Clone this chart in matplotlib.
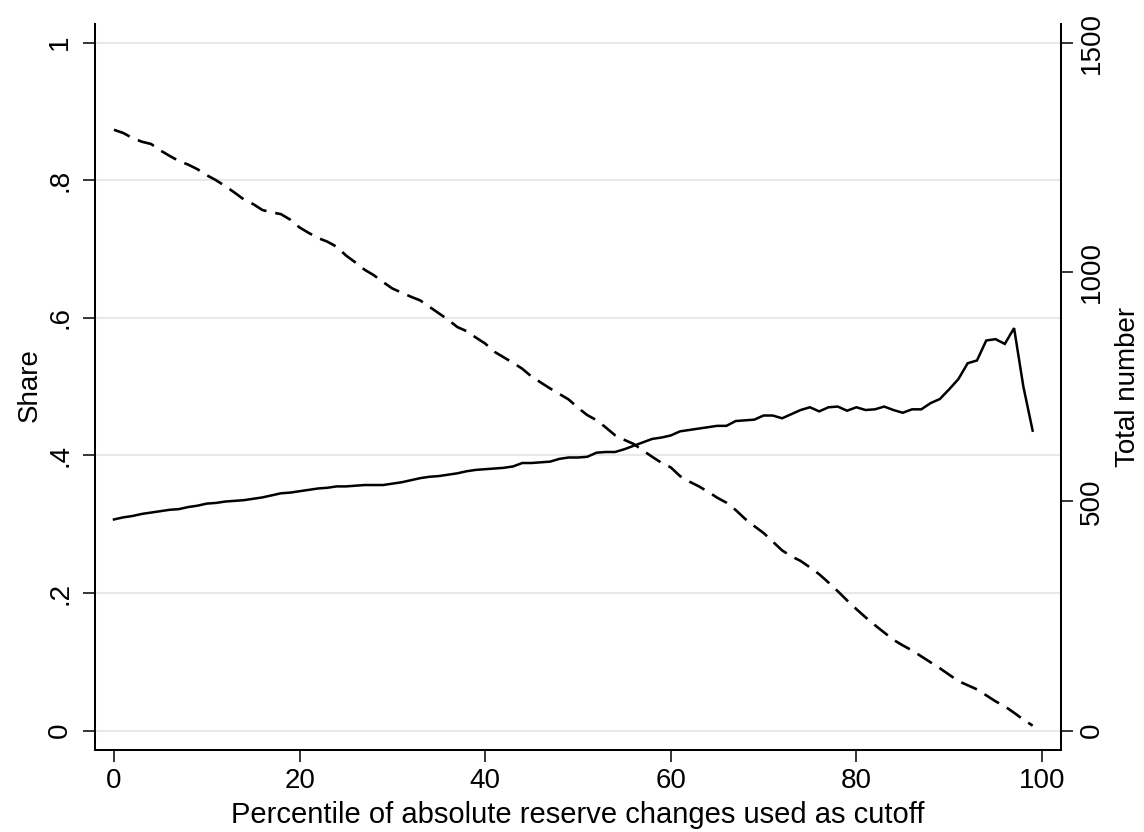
import matplotlib
matplotlib.use("Agg")
import matplotlib.pyplot as plt
import numpy as np

plt.rcParams["font.family"] = ["Liberation Sans", "DejaVu Sans"]

# percentile cutoff 0..99
percentile = np.arange(0, 100)

# share (left axis, solid line)
share = [
    0.307, 0.310, 0.312, 0.315, 0.317, 0.319, 0.321, 0.322, 0.325, 0.327,
    0.330, 0.331, 0.333, 0.334, 0.335, 0.337, 0.339, 0.342, 0.345, 0.346,
    0.348, 0.350, 0.352, 0.353, 0.355, 0.355, 0.356, 0.357, 0.357, 0.357,
    0.359, 0.361, 0.364, 0.367, 0.369, 0.370, 0.372, 0.374, 0.377, 0.379,
    0.380, 0.381, 0.382, 0.384, 0.389, 0.389, 0.390, 0.391, 0.395, 0.397,
    0.397, 0.398, 0.404, 0.405, 0.405, 0.409, 0.414, 0.419, 0.424, 0.426,
    0.429, 0.435, 0.437, 0.439, 0.441, 0.443, 0.443, 0.450, 0.451, 0.452,
    0.458, 0.458, 0.454, 0.460, 0.466, 0.470, 0.464, 0.470, 0.471, 0.465,
    0.470, 0.466, 0.467, 0.471, 0.466, 0.462, 0.467, 0.467, 0.476, 0.482,
    0.496, 0.511, 0.534, 0.538, 0.567, 0.569, 0.562, 0.585, 0.500, 0.436,
]

# total number (right axis, dashed line)
total = [
    1310, 1303, 1292, 1284, 1279, 1265, 1253, 1242, 1234, 1224,
    1211, 1200, 1187, 1173, 1158, 1148, 1135, 1130, 1126, 1114,
    1097, 1085, 1074, 1066, 1055, 1036, 1021, 1005, 993, 978,
    964, 955, 946, 938, 924, 910, 896, 880, 871, 857,
    844, 826, 814, 802, 789, 772, 759, 746, 734, 722,
    704, 688, 677, 661, 644, 634, 625, 611, 597, 584,
    574, 555, 543, 533, 521, 508, 497, 481, 462, 446,
    431, 412, 393, 380, 370, 356, 341, 323, 304, 284,
    265, 247, 230, 214, 198, 186, 175, 162, 149, 136,
    122, 108, 99, 90, 77, 64, 53, 39, 24, 11,
]

x_ticks = [0, 20, 40, 60, 80, 100]
share_ticks = [0, 0.2, 0.4, 0.6, 0.8, 1.0]
share_labels = ["0", ".2", ".4", ".6", ".8", "1"]
total_ticks = [0, 500, 1000, 1500]
total_labels = ["0", "500", "1000", "1500"]

FS = 20
TICK_LEN = 8.6
SPINE_W = 1.45

fig = plt.figure(figsize=(11.44, 8.32), dpi=100)
ax = fig.add_axes([0.0830, 0.0986, 0.8444, 0.8726])
ax2 = ax.twinx()

ax.set_xlim(-2.05, 102.05)
ax.set_ylim(-0.028, 1.027)
ax2.set_ylim(-42.1, 1540.7)

for y in share_ticks:
    ax.axhline(y, color="#e8e8e8", lw=1.45, zorder=0)

ax.plot(percentile, share, color="black", lw=1.8, solid_joinstyle="miter")
ax2.plot(percentile, total, color="black", lw=1.9, dashes=(6.5, 3.4))

for a in (ax, ax2):
    a.spines["top"].set_visible(False)
    for s in a.spines.values():
        s.set_linewidth(SPINE_W)
ax2.spines["left"].set_visible(False)
ax2.spines["bottom"].set_visible(False)
ax.spines["right"].set_visible(False)

ax.set_xticks(x_ticks)
ax.set_xticklabels([str(v) for v in x_ticks])
ax.tick_params(axis="x", length=TICK_LEN, width=1.1, pad=4.5, labelsize=FS)

ax.set_yticks(share_ticks)
ax.set_yticklabels(share_labels)
ax.tick_params(axis="y", length=TICK_LEN, width=1.1, pad=11.5, labelsize=FS)
for t in ax.get_yticklabels():
    t.set_rotation(90)
    t.set_rotation_mode("anchor")
    t.set_ha("center")
    t.set_va("baseline")

ax2.set_yticks(total_ticks)
ax2.set_yticklabels(total_labels)
ax2.tick_params(axis="y", length=TICK_LEN, width=1.1, pad=4.3, labelsize=FS)
for t in ax2.get_yticklabels():
    t.set_rotation(90)
    t.set_rotation_mode("anchor")
    t.set_ha("center")
    t.set_va("top")

ax.set_xlabel("Percentile of absolute reserve changes used as cutoff", fontsize=21)
ax.xaxis.set_label_coords(0.5, -0.0709)
ax.set_ylabel("Share", fontsize=FS)
ax.yaxis.set_label_coords(-0.054, 0.503)
ax2.set_ylabel("Total number", fontsize=FS, rotation=90, va="top")
ax2.yaxis.set_label_coords(1.0555, 0.5)

fig.savefig("out.png", dpi=100, facecolor="white")
